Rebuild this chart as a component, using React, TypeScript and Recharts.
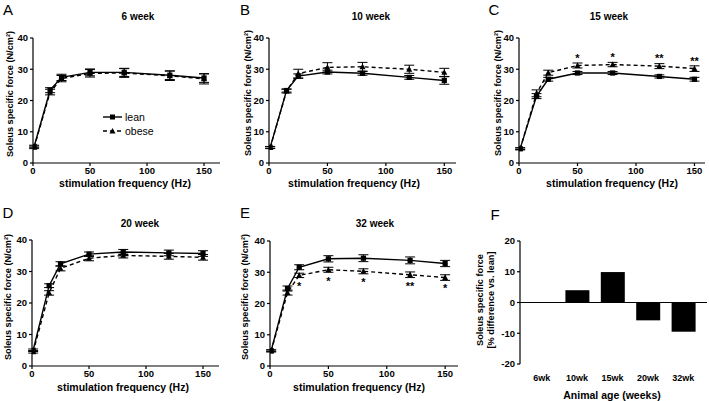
import React from "react"
import {
  Bar,
  BarChart,
  ErrorBar,
  LabelList,
  Legend,
  Line,
  LineChart,
  ReferenceLine,
  XAxis,
  YAxis,
} from "recharts"

// stimulation frequencies (Hz)
const freqs = [1, 15, 25, 50, 80, 120, 150]

// A - 6 week
const leanA = [5.3, 23.3, 27.4, 29.0, 29.0, 28.1, 27.2]
const obeseA = [5.0, 22.7, 27.0, 28.7, 28.8, 27.9, 26.9]
const leanErrA = [0.4, 0.8, 1.0, 1.1, 1.3, 1.4, 1.4]
const obeseErrA = [0.4, 0.9, 1.0, 1.2, 1.4, 1.5, 1.6]

// B - 10 week
const leanB = [5.0, 23.2, 27.8, 29.1, 28.7, 27.4, 26.4]
const obeseB = [4.9, 23.0, 28.6, 30.6, 30.8, 30.0, 29.0]
const leanErrB = [0.3, 0.5, 0.7, 0.6, 0.6, 0.6, 1.2]
const obeseErrB = [0.3, 0.6, 1.4, 1.5, 1.4, 1.3, 1.3]

// C - 15 week
const leanC = [4.6, 21.4, 26.8, 28.8, 28.8, 27.7, 26.8]
const obeseC = [4.5, 22.3, 28.9, 31.2, 31.5, 31.0, 30.2]
const leanErrC = [0.3, 0.8, 0.6, 0.5, 0.5, 0.5, 0.6]
const obeseErrC = [0.3, 1.1, 0.8, 0.8, 0.7, 0.8, 0.9]
const sigC = ["", "", "", "*", "*", "**", "**"]

// D - 20 week
const leanD = [5.0, 25.5, 32.4, 35.5, 36.2, 35.9, 35.7]
const obeseD = [4.5, 23.2, 31.0, 34.2, 35.1, 34.8, 34.5]
const leanErrD = [0.4, 0.6, 0.7, 0.7, 0.8, 0.9, 0.9]
const obeseErrD = [0.4, 0.7, 0.8, 0.8, 0.8, 0.9, 0.9]

// E - 32 week
const leanE = [4.9, 24.8, 31.6, 34.3, 34.5, 33.8, 32.8]
const obeseE = [4.8, 23.5, 29.0, 30.8, 30.3, 29.2, 28.3]
const leanErrE = [0.3, 0.8, 0.8, 1.0, 1.1, 1.1, 1.0]
const obeseErrE = [0.3, 0.8, 0.7, 0.8, 0.8, 0.9, 0.9]
const sigE = ["", "", "*", "*", "*", "**", "*"]

// F - % difference vs lean
const ageLabels = ["6wk", "10wk", "15wk", "20wk", "32wk"]
const pctDiff = [0, 4.0, 9.9, -5.8, -9.5]

const FONT = "'Liberation Sans', Arial, Helvetica, sans-serif"
const tickStyle = { fontSize: 9.5, fontWeight: 700, fill: "#000", fontFamily: FONT }

function buildRows(lean: number[], obese: number[], le: number[], oe: number[], sig?: string[]) {
  return freqs.map((f, i) => ({
    f,
    lean: lean[i],
    obese: obese[i],
    leanErr: le[i],
    obeseErr: oe[i],
    sig: sig ? sig[i] : "",
  }))
}

const SquareDot = (p: any) => {
  if (p.cx == null || p.cy == null) return null
  return <rect x={p.cx - 2.6} y={p.cy - 2.6} width={5.2} height={5.2} fill="#000" />
}

const TriangleDot = (p: any) => {
  if (p.cx == null || p.cy == null) return null
  const { cx, cy } = p
  return <path d={`M${cx},${cy - 3.2} L${cx + 3},${cy + 2.4} L${cx - 3},${cy + 2.4} Z`} fill="#000" />
}

function Txt({ x, y, size = 10, weight = 700, rotate = 0, children }: any) {
  return (
    <div
      style={{
        position: "absolute",
        left: x,
        top: y,
        transform: `translate(-50%, -50%) rotate(${rotate}deg)`,
        fontFamily: FONT,
        fontSize: size,
        fontWeight: weight,
        whiteSpace: "nowrap",
        lineHeight: 1.15,
        textAlign: "center",
        color: "#000",
      }}
    >
      {children}
    </div>
  )
}

const renderLegend = () => (
  <div style={{ fontFamily: FONT, fontSize: 10.5, lineHeight: "14px" }}>
    <div style={{ display: "flex", alignItems: "center" }}>
      <svg width={20} height={8}>
        <line x1={0} y1={4} x2={19} y2={4} stroke="#000" strokeWidth={1.4} />
        <rect x={7} y={1.5} width={5} height={5} fill="#000" />
      </svg>
      <span style={{ marginLeft: 2 }}>lean</span>
    </div>
    <div style={{ display: "flex", alignItems: "center" }}>
      <svg width={20} height={8}>
        <line x1={0} y1={4} x2={19} y2={4} stroke="#000" strokeWidth={1.4} strokeDasharray="4 3" />
        <path d="M9.5,1 L12.5,6.5 L6.5,6.5 Z" fill="#000" />
      </svg>
      <span style={{ marginLeft: 2 }}>obese</span>
    </div>
  </div>
)

type Box = { left: number; top: number; right: number; bottom: number }

function ForcePanel({ box, xMax, rows, sigPos, legend }: { box: Box; xMax: number; rows: any[]; sigPos?: "top" | "bottom"; legend?: boolean }) {
  const w = box.right - box.left
  const h = box.bottom - box.top
  const yw = 32
  return (
    <div style={{ position: "absolute", left: box.left - yw, top: box.top - 6 }}>
      <LineChart width={w + yw + 6} height={h + 6 + 22} data={rows} margin={{ top: 6, right: 6, left: 0, bottom: 0 }}>
        <XAxis
          dataKey="f"
          type="number"
          domain={[0, xMax]}
          ticks={[0, 50, 100, 150]}
          height={22}
          tickSize={3}
          tickMargin={1}
          stroke="#000"
          strokeWidth={1.2}
          tick={tickStyle}
          allowDataOverflow
        />
        <YAxis
          domain={[0, 40]}
          ticks={[0, 10, 20, 30, 40]}
          width={yw}
          tickSize={3}
          tickMargin={2}
          stroke="#000"
          strokeWidth={1.2}
          tick={tickStyle}
          allowDataOverflow
        />
        {legend && (
          <Legend
            layout="vertical"
            align="center"
            verticalAlign="middle"
            content={renderLegend}
            wrapperStyle={{ left: 102, top: 78, width: 60 }}
          />
        )}
        <Line
          dataKey="obese"
          stroke="#000"
          strokeWidth={1.4}
          strokeDasharray="4 3"
          dot={<TriangleDot />}
          activeDot={false}
          isAnimationActive={false}
          legendType="none"
        >
          <ErrorBar dataKey="obeseErr" width={5} stroke="#000" strokeWidth={1} direction="y" />
          {sigPos && (
            <LabelList
              dataKey="sig"
              position={sigPos}
              offset={sigPos === "top" ? 4 : 7}
              fill="#000"
              style={{ fontSize: 11, fontWeight: 700, fontFamily: FONT }}
            />
          )}
        </Line>
        <Line
          dataKey="lean"
          stroke="#000"
          strokeWidth={1.4}
          dot={<SquareDot />}
          activeDot={false}
          isAnimationActive={false}
          legendType="none"
        >
          <ErrorBar dataKey="leanErr" width={5} stroke="#000" strokeWidth={1} direction="y" />
        </Line>
      </LineChart>
    </div>
  )
}

function DiffPanel() {
  const box = { left: 520, top: 241, right: 707, bottom: 364 }
  const w = box.right - box.left
  const h = box.bottom - box.top
  const yw = 32
  const rows = ageLabels.map((a, i) => ({ age: a, diff: pctDiff[i] }))
  return (
    <div style={{ position: "absolute", left: box.left - yw, top: box.top - 6 }}>
      <BarChart width={w + yw + 1} height={h + 6 + 24} data={rows} margin={{ top: 6, right: 1, left: 0, bottom: 0 }}>
        <XAxis
          dataKey="age"
          height={24}
          axisLine={false}
          tickLine={false}
          tickSize={0}
          tickMargin={11}
          padding={{ left: 4, right: 6 }}
          tick={{ ...tickStyle, fontSize: 9 }}
          interval={0}
        />
        <YAxis
          domain={[-20, 20]}
          ticks={[-20, -10, 0, 10, 20]}
          width={yw}
          tickSize={3}
          tickMargin={2}
          stroke="#000"
          strokeWidth={1.2}
          tick={tickStyle}
          allowDataOverflow
        />
        <Bar dataKey="diff" fill="#000" barSize={24} isAnimationActive={false} />
        <ReferenceLine y={0} stroke="#000" strokeWidth={1.2} />
      </BarChart>
    </div>
  )
}

export default function App() {
  const yLabel = "Soleus specific force (N/cm²)"
  const xLabel = "stimulation frequency (Hz)"
  return (
    <div style={{ position: "absolute", left: 0, top: 0, width: 709, height: 401, background: "#fff", overflow: "hidden" }}>
      <ForcePanel box={{ left: 33, top: 38, right: 220, bottom: 163 }} xMax={164} rows={buildRows(leanA, obeseA, leanErrA, obeseErrA)} legend />
      <ForcePanel box={{ left: 269, top: 38, right: 456, bottom: 163 }} xMax={160} rows={buildRows(leanB, obeseB, leanErrB, obeseErrB)} />
      <ForcePanel box={{ left: 519, top: 38, right: 705, bottom: 163 }} xMax={159} rows={buildRows(leanC, obeseC, leanErrC, obeseErrC, sigC)} sigPos="top" />
      <ForcePanel box={{ left: 32, top: 240, right: 219, bottom: 366 }} xMax={164} rows={buildRows(leanD, obeseD, leanErrD, obeseErrD)} />
      <ForcePanel box={{ left: 270, top: 241, right: 458, bottom: 366 }} xMax={161} rows={buildRows(leanE, obeseE, leanErrE, obeseErrE, sigE)} sigPos="bottom" />
      <DiffPanel />

      {/* panel letters */}
      <Txt x={8} y={10} size={15} weight={400}>A</Txt>
      <Txt x={245} y={10} size={15} weight={400}>B</Txt>
      <Txt x={494} y={10} size={15} weight={400}>C</Txt>
      <Txt x={8} y={213} size={15} weight={400}>D</Txt>
      <Txt x={245} y={213} size={15} weight={400}>E</Txt>
      <Txt x={495} y={215} size={15} weight={400}>F</Txt>

      {/* titles */}
      <Txt x={138} y={17}>6 week</Txt>
      <Txt x={371} y={17}>10 week</Txt>
      <Txt x={609} y={17}>15 week</Txt>
      <Txt x={140} y={224}>20 week</Txt>
      <Txt x={375} y={224}>32 week</Txt>

      {/* x labels */}
      <Txt x={125} y={183} size={10.5}>{xLabel}</Txt>
      <Txt x={354} y={183} size={10.5}>{xLabel}</Txt>
      <Txt x={612} y={183} size={10.5}>{xLabel}</Txt>
      <Txt x={123} y={387} size={10.5}>{xLabel}</Txt>
      <Txt x={359} y={387} size={10.5}>{xLabel}</Txt>
      <Txt x={612} y={395} size={10.5}>Animal age (weeks)</Txt>

      {/* y labels */}
      <Txt x={10} y={94} size={9.2} rotate={-90}>{yLabel}</Txt>
      <Txt x={248} y={93} size={9.2} rotate={-90}>{yLabel}</Txt>
      <Txt x={498} y={93} size={9.2} rotate={-90}>{yLabel}</Txt>
      <Txt x={8} y={297} size={9.2} rotate={-90}>{yLabel}</Txt>
      <Txt x={245} y={297} size={9.2} rotate={-90}>{yLabel}</Txt>
      <Txt x={486} y={300} size={9.2} rotate={-90}>
        Soleus specific force
        <br />
        [% difference vs. lean]
      </Txt>
    </div>
  )
}
